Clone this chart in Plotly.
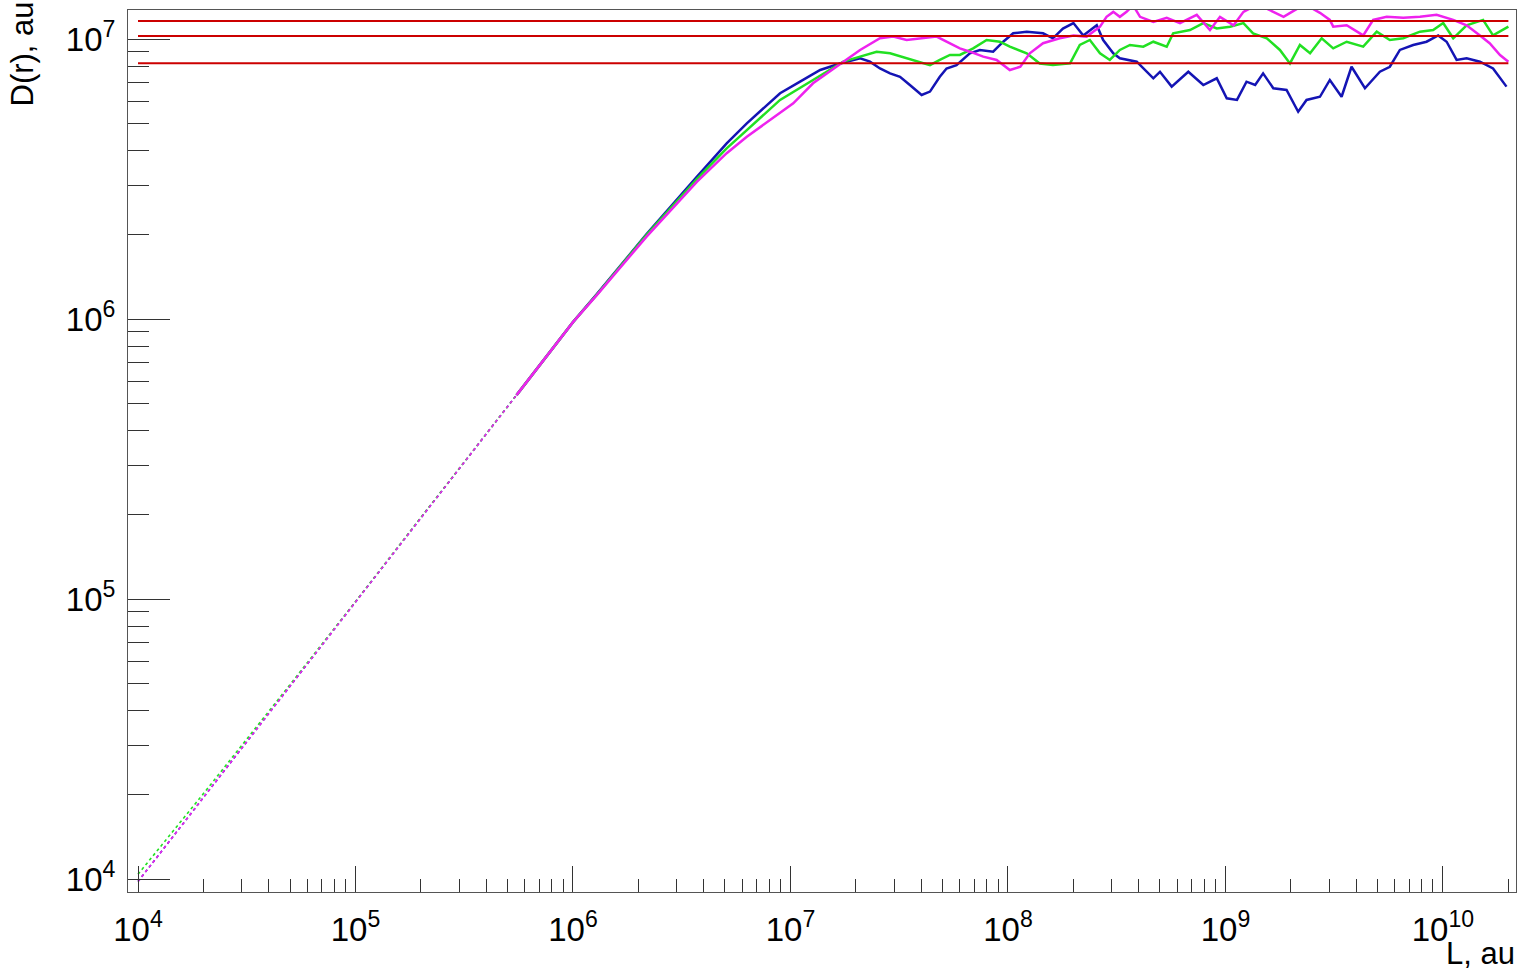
import plotly.graph_objects as go

# ---------------- data ----------------
# low-L (sparse, dotted) part of the three curves
L_low = [1.0e4, 2.0e4, 5.0e4, 1.0e5, 2.0e5, 3.5e5, 5.5e5]
D_low_blue = [9.8e3, 1.96e4, 4.9e4, 9.8e4, 1.96e5, 3.43e5, 5.35e5]
D_low_green = [1.04e4, 2.02e4, 4.95e4, 9.8e4, 1.96e5, 3.43e5, 5.35e5]
D_low_magenta = [9.8e3, 1.96e4, 4.9e4, 9.8e4, 1.96e5, 3.43e5, 5.35e5]

L_blue = [5.5e5, 1.0e6, 1.29e6, 2.18e6, 3.71e6, 5.09e6, 6.30e6, 8.96e6, 1.107e7, 1.37e7,
          1.69e7, 2.09e7, 2.32e7, 2.58e7, 2.87e7, 3.19e7, 3.54e7, 4.01e7, 4.38e7, 4.86e7,
          5.22e7, 5.80e7, 6.68e7, 7.43e7, 8.55e7, 9.51e7, 1.057e8, 1.22e8, 1.45e8, 1.61e8,
          1.79e8, 2.00e8, 2.22e8, 2.56e8, 2.74e8, 3.05e8, 3.27e8, 3.91e8, 4.66e8, 5.00e8,
          5.66e8, 6.75e8, 7.91e8, 9.12e8, 1.014e9, 1.13e9, 1.25e9, 1.37e9, 1.49e9, 1.66e9,
          1.91e9, 2.16e9, 2.36e9, 2.72e9, 3.02e9, 3.42e9, 3.80e9, 4.38e9, 5.13e9, 5.70e9,
          6.34e9, 7.30e9, 8.41e9, 9.51e9, 1.04e10, 1.156e10, 1.285e10, 1.48e10, 1.70e10, 1.96e10]
D_blue = [5.35e5, 9.75e5, 1.23e6, 2.01e6, 3.22e6, 4.24e6, 5.00e6, 6.40e6, 7.04e6, 7.75e6,
          8.18e6, 8.53e6, 8.30e6, 7.85e6, 7.54e6, 7.33e6, 6.85e6, 6.31e6, 6.49e6, 7.33e6,
          7.85e6, 8.07e6, 8.89e6, 9.14e6, 9.01e6, 9.78e6, 1.048e7, 1.062e7, 1.048e7, 1.006e7,
          1.09e7, 1.14e7, 1.03e7, 1.12e7, 9.92e6, 8.89e6, 8.53e6, 8.30e6, 7.24e6, 7.64e6,
          6.76e6, 7.64e6, 6.85e6, 7.24e6, 6.14e6, 6.06e6, 7.04e6, 6.85e6, 7.54e6, 6.67e6,
          6.58e6, 5.50e6, 6.06e6, 6.22e6, 7.14e6, 6.22e6, 7.96e6, 6.67e6, 7.64e6, 7.96e6,
          9.14e6, 9.52e6, 9.78e6, 1.03e7, 9.78e6, 8.42e6, 8.53e6, 8.30e6, 7.85e6, 6.76e6]

L_green = [5.5e5, 1.0e6, 1.29e6, 2.18e6, 3.71e6, 5.09e6, 6.30e6, 8.96e6, 1.27e7, 1.75e7,
           2.09e7, 2.49e7, 2.87e7, 3.42e7, 3.94e7, 4.38e7, 4.86e7, 5.41e7, 6.01e7, 6.92e7,
           7.98e7, 9.18e7, 1.02e8, 1.22e8, 1.40e8, 1.61e8, 1.93e8, 2.14e8, 2.38e8, 2.65e8,
           2.94e8, 3.27e8, 3.64e8, 4.19e8, 4.66e8, 5.37e8, 5.75e8, 6.87e8, 7.91e8, 9.12e8,
           1.05e9, 1.21e9, 1.34e9, 1.55e9, 1.78e9, 1.98e9, 2.20e9, 2.45e9, 2.77e9, 3.13e9,
           3.61e9, 4.30e9, 4.96e9, 5.70e9, 6.57e9, 7.84e9, 9.02e9, 1.003e10, 1.115e10, 1.285e10,
           1.53e10, 1.70e10, 2.00e10]
D_green = [5.35e5, 9.75e5, 1.225e6, 2.0e6, 3.16e6, 4.07e6, 4.73e6, 6.06e6, 7.14e6, 8.30e6,
           8.65e6, 9.01e6, 8.89e6, 8.53e6, 8.30e6, 8.07e6, 8.42e6, 8.77e6, 8.77e6, 9.26e6,
           9.92e6, 9.78e6, 9.39e6, 8.89e6, 8.18e6, 8.07e6, 8.18e6, 9.52e6, 9.92e6, 8.89e6,
           8.42e6, 9.14e6, 9.52e6, 9.39e6, 9.78e6, 9.39e6, 1.048e7, 1.077e7, 1.14e7, 1.09e7,
           1.107e7, 1.14e7, 1.048e7, 1.006e7, 9.14e6, 8.18e6, 9.52e6, 8.89e6, 1.006e7, 9.26e6,
           9.78e6, 9.39e6, 1.062e7, 9.92e6, 1.006e7, 1.062e7, 1.077e7, 1.14e7, 1.006e7, 1.12e7,
           1.17e7, 1.03e7, 1.107e7]

L_magenta = [5.5e5, 1.0e6, 1.29e6, 2.18e6, 3.71e6, 5.09e6, 6.30e6, 1.03e7, 1.27e7, 1.63e7,
             2.09e7, 2.58e7, 2.97e7, 3.42e7, 3.94e7, 4.70e7, 5.22e7, 6.01e7, 6.68e7, 7.70e7,
             8.87e7, 1.02e8, 1.14e8, 1.26e8, 1.45e8, 1.73e8, 2.00e8, 2.30e8, 2.65e8, 2.84e8,
             3.05e8, 3.27e8, 3.51e8, 3.76e8, 4.05e8, 4.66e8, 5.37e8, 6.18e8, 7.38e8, 8.49e8,
             9.44e8, 1.09e9, 1.21e9, 1.41e9, 1.66e9, 1.85e9, 2.02e9, 2.32e9, 2.72e9, 3.02e9,
             3.13e9, 3.61e9, 4.30e9, 4.78e9, 5.51e9, 6.57e9, 7.84e9, 9.35e9, 1.115e10, 1.285e10,
             1.48e10, 1.64e10, 1.83e10, 2.00e10]
D_magenta = [5.35e5, 9.75e5, 1.22e6, 1.97e6, 3.09e6, 3.91e6, 4.48e6, 5.89e6, 6.95e6, 7.96e6,
             9.14e6, 1.006e7, 1.02e7, 9.92e6, 1.006e7, 1.02e7, 9.78e6, 9.26e6, 9.01e6, 8.65e6,
             8.42e6, 7.75e6, 7.96e6, 8.89e6, 9.66e6, 1.006e7, 1.03e7, 1.02e7, 1.107e7, 1.20e7,
             1.25e7, 1.20e7, 1.25e7, 1.32e7, 1.20e7, 1.15e7, 1.19e7, 1.14e7, 1.22e7, 1.077e7,
             1.20e7, 1.12e7, 1.25e7, 1.33e7, 1.25e7, 1.20e7, 1.25e7, 1.33e7, 1.24e7, 1.17e7,
             1.107e7, 1.12e7, 1.03e7, 1.17e7, 1.20e7, 1.19e7, 1.20e7, 1.22e7, 1.17e7, 1.12e7,
             1.03e7, 9.66e6, 8.77e6, 8.30e6]

# horizontal reference levels
ref_L = [1.0e4, 2.0e10]
ref_levels = [1.159e7, 1.025e7, 8.19e6]

# axis ticks
x_tickvals = [1e4, 1e5, 1e6, 1e7, 1e8, 1e9, 1e10]
x_ticktext = ["10<sup>4</sup>", "10<sup>5</sup>", "10<sup>6</sup>", "10<sup>7</sup>",
              "10<sup>8</sup>", "10<sup>9</sup>", "10<sup>10</sup>"]
y_tickvals = [1e4, 1e5, 1e6, 1e7]
y_ticktext = ["10<sup>4</sup>", "10<sup>5</sup>", "10<sup>6</sup>", "10<sup>7</sup>"]
x_minor = [m * 10 ** e for e in range(4, 11) for m in range(2, 10) if m * 10 ** e <= 2.1e10]
y_minor = [m * 10 ** e for e in range(4, 7) for m in range(2, 10)]

BLUE = "#1414b4"
GREEN = "#22e022"
MAGENTA = "#ee22ee"
RED = "#cc0000"
FONT = "Liberation Sans, Arial, Helvetica, sans-serif"

fig = go.Figure()

for Lx, Dy, col in [(L_low, D_low_blue, BLUE), (L_low, D_low_green, GREEN),
                    (L_low, D_low_magenta, MAGENTA)]:
    fig.add_trace(go.Scatter(x=Lx, y=Dy, mode="lines", showlegend=False,
                             line=dict(color=col, width=1.6, dash="dot")))

for Lx, Dy, col in [(L_blue, D_blue, BLUE), (L_green, D_green, GREEN),
                    (L_magenta, D_magenta, MAGENTA)]:
    fig.add_trace(go.Scatter(x=Lx, y=Dy, mode="lines", showlegend=False,
                             line=dict(color=col, width=2.5, shape="linear")))

for lev in ref_levels:
    fig.add_trace(go.Scatter(x=ref_L, y=[lev, lev], mode="lines", showlegend=False,
                             line=dict(color=RED, width=2)))

W, H = 1520, 972
ml, mr, mt, mb = 128, 4, 10, 80
pw, ph = W - ml - mr, H - mt - mb

def px2paper(px, py):
    return (px - ml) / pw, (H - mb - py) / ph

fig.update_layout(
    width=W, height=H,
    margin=dict(l=ml, r=mr, t=mt, b=mb),
    paper_bgcolor="white", plot_bgcolor="white",
    font=dict(family=FONT, color="black"),
    xaxis=dict(type="log", range=[3.954, 10.336], showgrid=False, zeroline=False,
               showline=True, mirror=True, linecolor="#555555", linewidth=1,
               ticks="inside", ticklen=26, tickcolor="#333333", tickwidth=1,
               tickmode="array", tickvals=x_tickvals, ticktext=x_ticktext,
               tickfont=dict(size=33, family=FONT), ticklabelstandoff=8,
               minor=dict(tickmode="array", tickvals=x_minor, ticks="inside",
                          ticklen=13, tickcolor="#333333", tickwidth=1, showgrid=False)),
    yaxis=dict(type="log", range=[3.954, 7.1036], showgrid=False, zeroline=False,
               showline=True, mirror=True, linecolor="#555555", linewidth=1,
               ticks="inside", ticklen=42, tickcolor="#333333", tickwidth=1,
               tickmode="array", tickvals=y_tickvals, ticktext=y_ticktext,
               tickfont=dict(size=33, family=FONT), ticklabelstandoff=5,
               minor=dict(tickmode="array", tickvals=y_minor, ticks="inside",
                          ticklen=21, tickcolor="#333333", tickwidth=1, showgrid=False)),
)

ax, ay = px2paper(1517, 953)
fig.add_annotation(text="L, au", xref="paper", yref="paper", x=ax, y=ay,
                   xanchor="right", yanchor="middle", showarrow=False,
                   font=dict(size=31, family=FONT, color="black"))
bx, by = px2paper(22, 0)
fig.add_annotation(text="D(r), au", xref="paper", yref="paper", x=bx, y=by,
                   xanchor="center", yanchor="top", textangle=-90, showarrow=False,
                   font=dict(size=31, family=FONT, color="black"))

fig.write_html("out.html", config={"displayModeBar": False},
               post_script="document.body.style.margin='0';document.body.style.overflow='hidden';")
